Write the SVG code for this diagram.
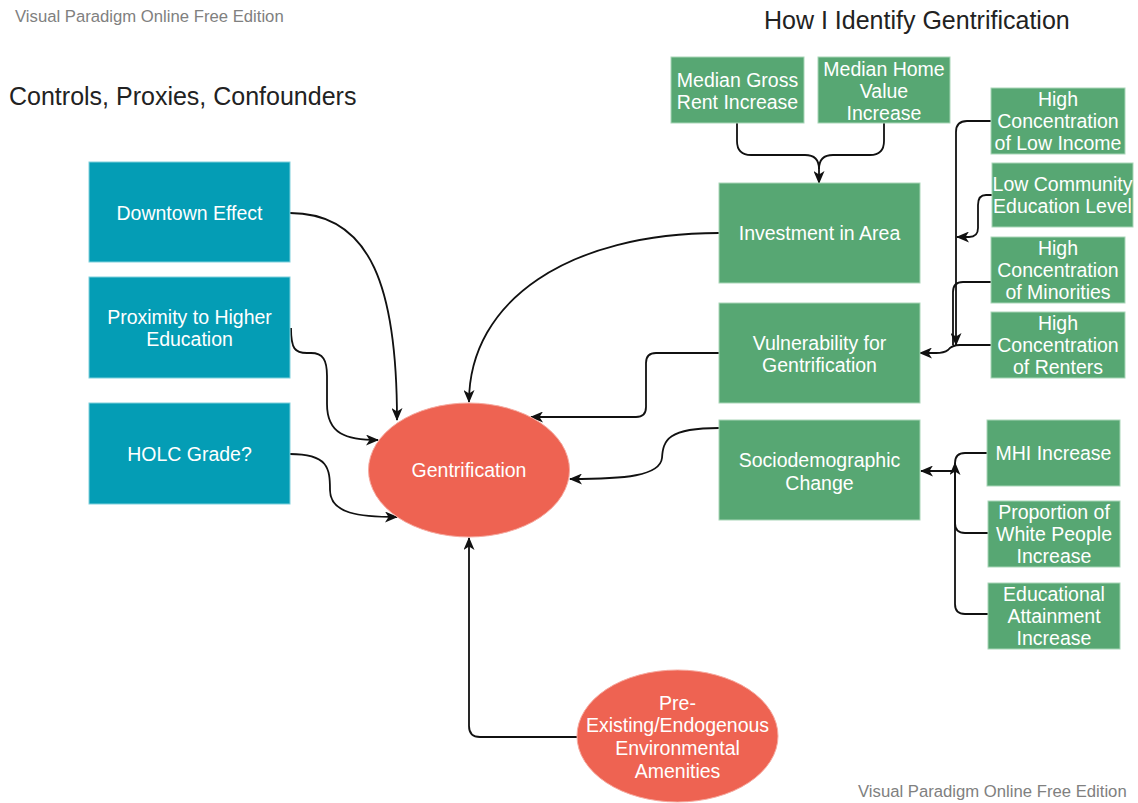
<svg xmlns="http://www.w3.org/2000/svg" width="1138" height="803" viewBox="0 0 1138 803">
<style>
  .bg{fill:#ffffff}
  .teal{fill:#049DB5;stroke:#7fd0dc;stroke-width:1}
  .green{fill:#57A773;stroke:#a9d6b8;stroke-width:1}
  .red{fill:#EE6352;stroke:#f6aaa0;stroke-width:1}
  .lbl{font-family:"Liberation Sans",Arial,sans-serif;font-size:19.5px;fill:#ffffff;text-anchor:middle}
  .title{font-family:"Liberation Sans",Arial,sans-serif;font-size:25px;fill:#222222}
  .wm{font-family:"Liberation Sans",Arial,sans-serif;font-size:16.7px;fill:#808080}
  .edge{fill:none;stroke:#111111;stroke-width:1.8}
</style>
<defs>
  <marker id="arr" viewBox="0 0 13 11" refX="12" refY="5.5" markerWidth="13" markerHeight="11" markerUnits="userSpaceOnUse" orient="auto">
    <path d="M0,0 L13,5.5 L0,11 L3.5,5.5 Z" fill="#111111"/>
  </marker>
</defs>
<rect class="bg" x="0" y="0" width="1138" height="803"/>

<text class="wm" x="15" y="22">Visual Paradigm Online Free Edition</text>
<text class="wm" x="858" y="797">Visual Paradigm Online Free Edition</text>
<text class="title" x="9" y="105">Controls, Proxies, Confounders</text>
<text class="title" x="764" y="29">How I Identify Gentrification</text>

<g id="connectors">
  <path class="edge" d="M290,213 C372,213 397,290 397,420" marker-end="url(#arr)"/>
  <path class="edge" d="M291,328 C291,349 295,353 307,353 L311,353 C323,353 327,360 327,376 L327,404 C327,434 346,440 378,440" marker-end="url(#arr)"/>
  <path class="edge" d="M290,454 C328,454 330,468 330,490 C330,514 360,517 397,517" marker-end="url(#arr)"/>
  <path class="edge" d="M719,233 C570,233 469,300 469,402" marker-end="url(#arr)"/>
  <path class="edge" d="M719,353 L656,353 Q646,353 646,363 L646,407 Q646,417 636,417 L531,417" marker-end="url(#arr)"/>
  <path class="edge" d="M719,428 C668,428 663,440 662,458 C660,476 625,479 570,479" marker-end="url(#arr)"/>
  <path class="edge" d="M577,737 L480,737 Q469,737 469,726 L469,538" marker-end="url(#arr)"/>
  <path class="edge" d="M737,123 L737,141 Q737,155 751,155 L805,155 Q819,155 819,169 L819,183" marker-end="url(#arr)"/>
  <path class="edge" d="M884,123 L884,141 Q884,155 870,155 L833,155 Q819,155 819,169"/>
  <path class="edge" d="M991,121 L967,121 Q956,121 956,132 L956,345" marker-end="url(#arr)"/>
  <path class="edge" d="M992,195 L986,195 Q978,195 978,205 L978,228 Q978,237 969,237 L957,237" marker-end="url(#arr)"/>
  <path class="edge" d="M991,282 L963,282 Q953,282 953,292 L953,345"/>
  <path class="edge" d="M991,345 L960,345 Q952,345 948,350 Q944,353 936,353 L920,353" marker-end="url(#arr)"/>
  <path class="edge" d="M987,453 L965,453 Q955,453 955,463 L955,471 L921,471" marker-end="url(#arr)"/>
  <path class="edge" d="M988,533 L965,533 Q955,533 955,523 L955,463" marker-end="url(#arr)"/>
  <path class="edge" d="M988,614 L965,614 Q955,614 955,604 L955,470"/>
</g>

<g id="downtown"><rect class="teal" x="89" y="162" width="201" height="100"/><text class="lbl" x="189.5" y="220">Downtown Effect</text></g>
<g id="proximity"><rect class="teal" x="89" y="277" width="201" height="101"/><text class="lbl" x="189.5" y="324">Proximity to Higher</text><text class="lbl" x="189.5" y="346">Education</text></g>
<g id="holc"><rect class="teal" x="89" y="403" width="201" height="101"/><text class="lbl" x="189.5" y="461">HOLC Grade?</text></g>

<g id="gentrification"><ellipse class="red" cx="469" cy="470" rx="100.5" ry="67"/><text class="lbl" x="469" y="477">Gentrification</text></g>
<g id="preexisting"><ellipse class="red" cx="677.5" cy="736" rx="100.5" ry="66"/>
  <text class="lbl" x="677.5" y="710">Pre-</text><text class="lbl" x="677.5" y="732">Existing/Endogenous</text><text class="lbl" x="677.5" y="755">Environmental</text><text class="lbl" x="677.5" y="778">Amenities</text></g>

<g id="rent"><rect class="green" x="671" y="57" width="133" height="66"/><text class="lbl" x="737.5" y="87">Median Gross</text><text class="lbl" x="737.5" y="109">Rent Increase</text></g>
<g id="homevalue"><rect class="green" x="818" y="57" width="132" height="66"/><text class="lbl" x="884" y="76">Median Home</text><text class="lbl" x="884" y="98">Value</text><text class="lbl" x="884" y="120">Increase</text></g>

<g id="investment"><rect class="green" x="719" y="183" width="201" height="100"/><text class="lbl" x="819.5" y="240">Investment in Area</text></g>
<g id="vulnerability"><rect class="green" x="719" y="303" width="201" height="100"/><text class="lbl" x="819.5" y="350">Vulnerability for</text><text class="lbl" x="819.5" y="372">Gentrification</text></g>
<g id="socio"><rect class="green" x="719" y="420" width="201" height="100"/><text class="lbl" x="819.5" y="467">Sociodemographic</text><text class="lbl" x="819.5" y="490">Change</text></g>

<g id="lowincome"><rect class="green" x="991" y="88" width="134" height="66"/><text class="lbl" x="1058" y="106">High</text><text class="lbl" x="1058" y="128">Concentration</text><text class="lbl" x="1058" y="150">of Low Income</text></g>
<g id="education"><rect class="green" x="992" y="163" width="141" height="64"/><text class="lbl" x="1062.5" y="191">Low Community</text><text class="lbl" x="1062.5" y="213">Education Level</text></g>
<g id="minorities"><rect class="green" x="991" y="237" width="134" height="66"/><text class="lbl" x="1058" y="255">High</text><text class="lbl" x="1058" y="277">Concentration</text><text class="lbl" x="1058" y="299">of Minorities</text></g>
<g id="renters"><rect class="green" x="991" y="312" width="134" height="66"/><text class="lbl" x="1058" y="330">High</text><text class="lbl" x="1058" y="352">Concentration</text><text class="lbl" x="1058" y="374">of Renters</text></g>

<g id="mhi"><rect class="green" x="987" y="420" width="133" height="66"/><text class="lbl" x="1053.5" y="460">MHI Increase</text></g>
<g id="white"><rect class="green" x="988" y="501" width="132" height="66"/><text class="lbl" x="1054" y="519">Proportion of</text><text class="lbl" x="1054" y="541">White People</text><text class="lbl" x="1054" y="563">Increase</text></g>
<g id="attainment"><rect class="green" x="988" y="583" width="132" height="66"/><text class="lbl" x="1054" y="601">Educational</text><text class="lbl" x="1054" y="623">Attainment</text><text class="lbl" x="1054" y="645">Increase</text></g>
</svg>
